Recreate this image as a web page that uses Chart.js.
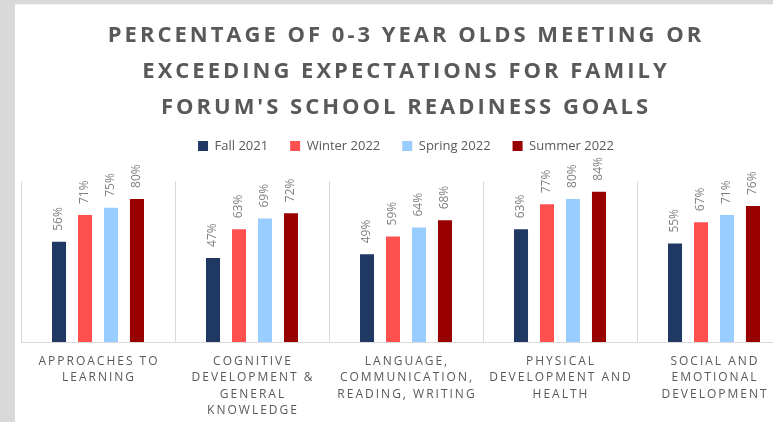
<!DOCTYPE html>
<html>
<head>
<meta charset="utf-8">
<script src="https://cdn.jsdelivr.net/npm/chart.js@4/dist/chart.umd.min.js"></script>
<style>
html,body{margin:0;padding:0;width:773px;height:422px;overflow:hidden;background:#d9d9d9}
#wrap{position:absolute;left:15px;top:4px;width:800px;height:418px;background:#fff;border-top:1px solid #f2f2f2}
</style>
</head>
<body>
<div id="wrap"><canvas id="c" width="790" height="417"></canvas></div>
<script>
// ── data ──
const titleLines=['PERCENTAGE OF 0-3 YEAR OLDS MEETING OR','EXCEEDING EXPECTATIONS FOR FAMILY',"FORUM'S SCHOOL READINESS GOALS"];
const categories=[
  ['APPROACHES TO','LEARNING'],
  ['COGNITIVE','DEVELOPMENT &','GENERAL','KNOWLEDGE'],
  ['LANGUAGE,','COMMUNICATION,','READING, WRITING'],
  ['PHYSICAL','DEVELOPMENT AND','HEALTH'],
  ['SOCIAL AND','EMOTIONAL','DEVELOPMENT']
];
const seriesNames=['Fall 2021','Winter 2022','Spring 2022','Summer 2022'];
const fall2021  =[56,47,49,63,55];
const winter2022=[71,63,59,77,67];
const spring2022=[75,69,64,80,71];
const summer2022=[80,72,68,84,76];
const colors=['#1f3864','#ff5050','#99ccff','#990000'];

const gray='#595959';

// the title is drawn by Chart.js, only with wider letter spacing
const spacedTitle={
  id:'spacedTitle',
  beforeDraw(chart){
    const tb=chart.titleBlock;
    if(!tb||tb._spaced)return;
    const orig=tb.draw;
    tb.draw=function(){
      const ctx=chart.ctx;
      ctx.save();ctx.letterSpacing='3px';
      orig.apply(this,arguments);
      ctx.restore();
    };
    tb._spaced=true;
  }
};

// value labels, rotated, above each bar
const barLabels={
  id:'barLabels',
  afterDatasetsDraw(chart){
    const ctx=chart.ctx;
    ctx.save();
    ctx.font='12px "Open Sans"';
    ctx.fillStyle='#7f7f7f';
    ctx.textAlign='left';
    ctx.textBaseline='middle';
    chart.data.datasets.forEach((ds,i)=>{
      chart.getDatasetMeta(i).data.forEach((bar,j)=>{
        ctx.save();
        ctx.translate(bar.x,bar.y-11);
        ctx.rotate(-Math.PI/2);
        ctx.fillText(ds.data[j]+'%',0,0);
        ctx.restore();
      });
    });
    ctx.restore();
  }
};

// category labels, spaced caps under the axis
const catLabels={
  id:'catLabels',
  afterDraw(chart){
    const ctx=chart.ctx, x=chart.scales.x, top=chart.chartArea.bottom+19.5;
    ctx.save();
    ctx.font='12px "Open Sans"';
    ctx.fillStyle=gray;
    ctx.textAlign='center';
    ctx.textBaseline='middle';
    ctx.letterSpacing='2px';
    categories.forEach((lines,i)=>{
      const px=x.getPixelForValue(i);
      lines.forEach((t,k)=>ctx.fillText(t,px+1,top+k*16.3));
    });
    ctx.restore();
  }
};

new Chart(document.getElementById('c'),{
  type:'bar',
  data:{
    labels:categories,
    datasets:[fall2021,winter2022,spring2022,summer2022].map((d,i)=>({
      label:seriesNames[i],data:d,backgroundColor:colors[i],xAxisID:'x',
      categoryPercentage:0.675,barPercentage:0.54
    }))
  },
  options:{
    responsive:false,animation:false,
    layout:{padding:{left:6,right:14,top:0,bottom:80}},
    plugins:{
      title:{display:true,text:titleLines,
        color:gray,font:{family:'"Open Sans"',size:22,weight:'bold',lineHeight:36/22},padding:{top:12.5,bottom:-8}},
      legend:{labels:{color:gray,font:{family:'"Open Sans"',size:13},boxWidth:10,boxHeight:10,padding:22}},
      tooltip:{enabled:false}
    },
    scales:{
      x:{grid:{color:'#d9d9d9',drawTicks:false},border:{color:'#d9d9d9'},ticks:{display:false}},
      gap:{axis:'x',position:'top',grid:{display:false},border:{display:false},ticks:{display:false},
        afterFit(s){s.height=18.5;}},
      y:{display:false,min:0,max:90}
    }
  },
  plugins:[spacedTitle,barLabels,catLabels]
});
</script>
</body>
</html>
